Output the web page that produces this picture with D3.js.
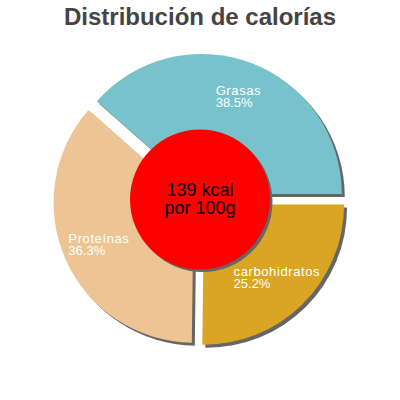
<!DOCTYPE html>
<html>
<head>
<meta charset="utf-8">
<script src="https://cdn.jsdelivr.net/npm/d3@7"></script>
<style>
  body { margin: 0; background: #fff; }
  text { font-family: "Liberation Sans", Arial, sans-serif; }
</style>
</head>
<body>
<svg id="chart" width="400" height="400"></svg>
<script>
var title = 'Distribución de calorías';
var labels = ['Grasas', 'Proteínas', 'carbohidratos'];
var shares = [38.5, 36.3, 25.2];
var colors = ['#78c3cb', '#edc594', '#d9a522'];
var centerLines = ['139 kcal', 'por 100g'];

(function () {
    var cx = 199.5, cy = 200, r = 140, explode = 6.5, hole = 70;

    var svg = d3.select('#chart');

    svg.append('text')
        .attr('x', 200)
        .attr('y', 25)
        .attr('text-anchor', 'middle')
        .style('font-size', '24px')
        .style('font-weight', 'bold')
        .style('fill', '#444')
        .text(title);

    // counter-clockwise from 3 o'clock
    var pie = d3.pie()
        .sort(null)
        .value(function (d) { return d; })
        .startAngle(Math.PI / 2)
        .endAngle(Math.PI / 2 - 2 * Math.PI);

    var arc = d3.arc().innerRadius(0).outerRadius(r);

    var slices = pie(shares).map(function (a, i) {
        var mid = (a.startAngle + a.endAngle) / 2;
        a.i = i;
        a.dx = Math.sin(mid) * explode;
        a.dy = -Math.cos(mid) * explode;
        a.lx = a.dx + Math.sin(mid) * r * 0.74;
        a.ly = a.dy - Math.cos(mid) * r * 0.74;
        return a;
    });

    var g = svg.append('g').attr('transform', 'translate(' + cx + ',' + cy + ')');

    g.selectAll('.shadow')
        .data(slices)
        .enter()
        .append('path')
        .classed('shadow', true)
        .attr('d', arc)
        .attr('transform', function (d) { return 'translate(' + (d.dx + 3) + ',' + (d.dy + 3) + ')'; })
        .style('fill', '#666');

    g.selectAll('.slice')
        .data(slices)
        .enter()
        .append('path')
        .classed('slice', true)
        .attr('d', arc)
        .attr('transform', function (d) { return 'translate(' + d.dx + ',' + d.dy + ')'; })
        .style('fill', function (d) { return colors[d.i]; });

    // labels: two left-aligned lines, block centred on the slice
    slices.forEach(function (d) {
        var lg = g.append('g');
        var t1 = lg.append('text')
            .attr('y', d.ly - 2)
            .style('font-size', '13px')
            .style('letter-spacing', '0.6px')
            .style('fill', '#fff')
            .text(labels[d.i]);
        var t2 = lg.append('text')
            .attr('y', d.ly + 10)
            .style('font-size', '13px')
            .style('fill', '#fff')
            .text(d.data.toFixed(1) + '%');
        var w = Math.max(t1.node().getComputedTextLength(), t2.node().getComputedTextLength());
        t1.attr('x', d.lx - w / 2);
        t2.attr('x', d.lx - w / 2);
    });

    g.append('circle')
        .attr('cx', 3)
        .attr('cy', 2)
        .attr('r', hole)
        .style('fill', '#666');

    g.append('circle')
        .attr('cx', 0.5)
        .attr('cy', -0.5)
        .attr('r', hole)
        .style('fill', '#ff0000');

    g.selectAll('.center')
        .data(centerLines)
        .enter()
        .append('text')
        .classed('center', true)
        .attr('x', 0.5)
        .attr('y', function (d, i) { return -4 + i * 17.5; })
        .attr('text-anchor', 'middle')
        .style('font-size', '18px')
        .style('fill', '#000')
        .text(function (d) { return d; });
}());
</script>
</body>
</html>
